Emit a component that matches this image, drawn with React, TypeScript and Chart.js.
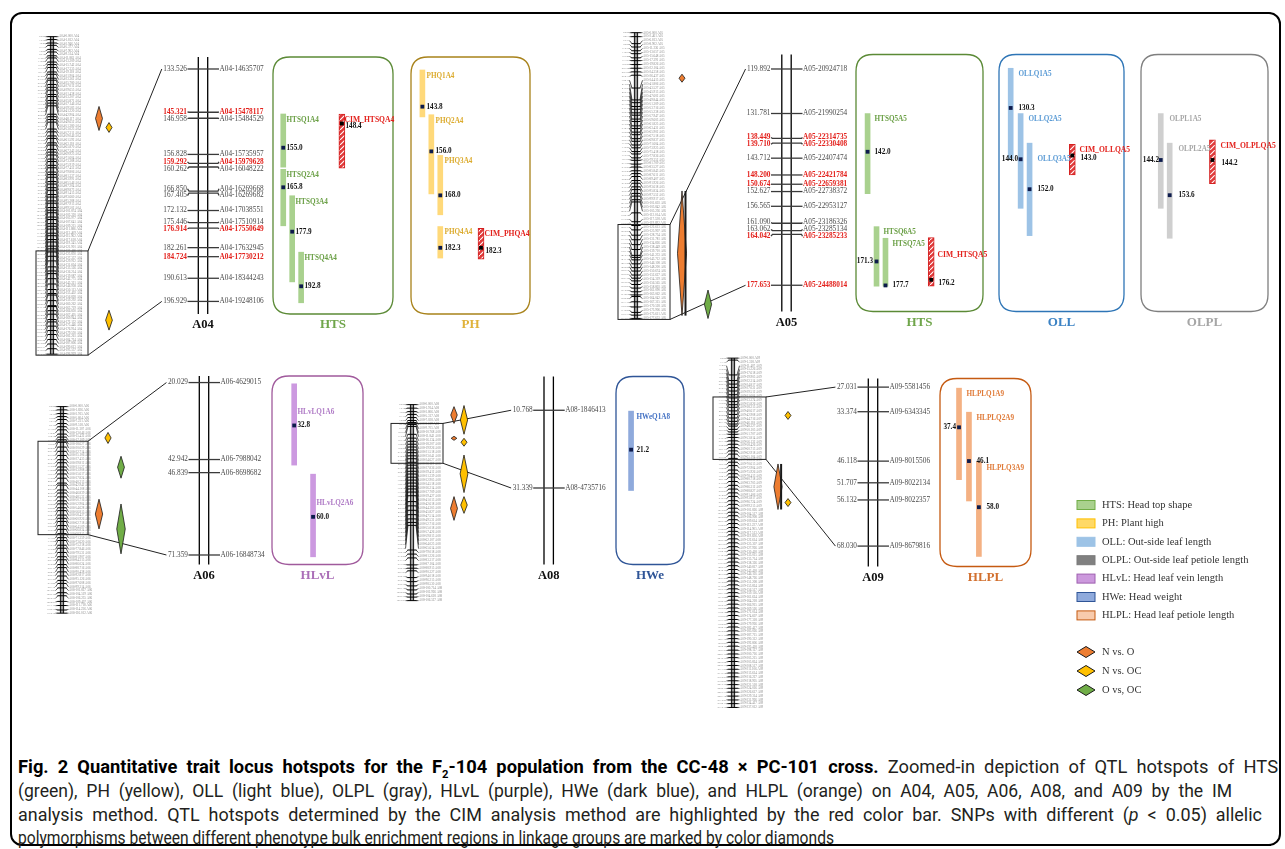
import { useEffect, useLayoutEffect, useRef } from 'react';
import { Chart, registerables } from 'chart.js';
Chart.register(...registerables);

const W = 1285;
const H = 740;
const SERIF = '"Liberation Serif", "Times New Roman", serif';

// ---------- zoomed linkage-group markers (cM, marker id) ----------
const A04_CM = [133.526, 145.321, 146.958, 156.828, 159.292, 160.262, 166.85, 167.405, 172.132, 175.446, 176.914, 182.261, 184.724, 190.613, 196.929];
const A04_ID = ['A04-14635707', 'A04-15478117', 'A04-15484529', 'A04-15735957', 'A04-15979628', 'A04-16048222', 'A04-16269668', 'A04-16269682', 'A04-17038551', 'A04-17510914', 'A04-17550649', 'A04-17632945', 'A04-17730212', 'A04-18344243', 'A04-19248106'];
const A05_CM = [119.892, 131.781, 138.449, 139.71, 143.712, 148.2, 150.674, 152.627, 156.565, 161.09, 163.062, 164.042, 177.653];
const A05_ID = ['A05-20924718', 'A05-21990254', 'A05-22314735', 'A05-22330408', 'A05-22407474', 'A05-22421784', 'A05-22659381', 'A05-22738372', 'A05-22953127', 'A05-23186326', 'A05-23285134', 'A05-23285233', 'A05-24488014'];
const A06_CM = [20.029, 42.942, 46.839, 71.359];
const A06_ID = ['A06-4629015', 'A06-7988042', 'A06-8698682', 'A06-16848734'];
const A08_CM = [10.768, 31.339];
const A08_ID = ['A08-1846413', 'A08-4735716'];
const A09_CM = [27.031, 33.374, 46.118, 51.707, 56.132, 68.03];
const A09_ID = ['A09-5581456', 'A09-6343345', 'A09-8015506', 'A09-8022134', 'A09-8022357', 'A09-8679816'];
const RED_MARKERS = ['A04-15478117', 'A04-15979628', 'A04-17550649', 'A04-17730212', 'A05-22314735', 'A05-22330408', 'A05-22421784', 'A05-22659381', 'A05-23285233', 'A05-24488014'];

// ---------- whole linkage-group maps (cM) ----------
const A04_MAP = [0, 1.812, 3.946, 5.377, 7.902, 9.514, 11.863, 13.209, 15.742, 17.335, 19.118, 21.904, 23.361, 25.78, 27.012, 29.655, 31.438, 33.207, 35.871, 37.146, 39.583, 41.22, 42.904, 48.117, 49.652, 51.38, 53.025, 57.311, 59.046, 61.592, 63.118, 65.87, 67.243, 69.925, 71.604, 73.388, 75.919, 77.452, 79.806, 81.337, 83.991, 85.546, 87.204, 89.873, 91.415, 93.66, 95.288, 97.913, 99.502, 101.874, 103.32, 105.977, 107.641, 109.215, 111.886, 113.409, 115.962, 117.618, 119.345, 121.901, 123.466, 125.83, 127.357, 129.912, 131.604, 133.526, 136.214, 139.087, 142.775, 145.321, 146.958, 150.113, 153.402, 156.828, 159.292, 160.262, 163.719, 166.85, 167.405, 169.944, 172.132, 175.446, 176.914, 179.53, 182.261, 184.724, 187.806, 190.613, 193.557, 196.929];
const A05_MAP = [0, 2.461, 6.813, 8.902, 11.236, 13.057, 15.648, 17.391, 19.826, 22.104, 24.358, 26.437, 34.415, 41.806, 43.527, 45.913, 47.602, 49.844, 51.309, 53.716, 55.238, 57.947, 59.603, 61.825, 63.431, 65.902, 67.518, 69.837, 71.604, 73.925, 75.418, 77.836, 79.352, 81.709, 83.527, 85.843, 87.611, 89.407, 91.926, 93.618, 95.834, 97.552, 99.917, 101.603, 103.842, 105.236, 112.014, 117.528, 119.892, 122.613, 125.907, 128.734, 131.781, 134.826, 138.449, 139.71, 141.233, 143.712, 146.108, 148.2, 150.674, 152.627, 154.319, 156.565, 158.803, 161.09, 163.062, 164.042, 167.315, 170.528, 173.906, 175.611, 177.653];
const A06_MAP = [0, 1.826, 3.915, 5.604, 7.231, 9.518, 11.307, 13.046, 15.432, 17.109, 18.627, 20.029, 22.714, 25.106, 27.435, 29.812, 31.527, 33.908, 35.617, 37.824, 40.213, 42.942, 44.108, 46.839, 48.532, 50.716, 52.904, 54.628, 56.815, 58.437, 60.926, 62.718, 64.509, 66.834, 68.915, 71.359, 73.62, 75.218, 77.846, 79.531, 81.907, 84.315, 86.024, 88.716, 90.438, 92.817, 95.126, 97.608, 99.314, 101.827, 104.519, 106.235, 109.407, 111.718, 114.236, 116.012];
const A08_MAP = [0, 1.914, 3.806, 5.317, 7.028, 8.619, 9.705, 10.768, 11.842, 16.134, 18.207, 19.926, 21.518, 23.041, 24.627, 26.119, 27.836, 29.412, 31.339, 32.905, 34.518, 36.214, 37.709, 39.427, 41.013, 42.618, 44.305, 45.827, 47.514, 49.531, 52.716, 55.018, 57.426, 59.813, 62.107, 64.025, 65.614, 79.018, 81.226, 83.317, 87.104, 88.915, 90.327, 94.018, 96.215, 98.53, 100.714, 102.926, 104.618, 106.527];
const A09_MAP = [0, 1.318, 11.407, 15.226, 17.618, 19.905, 22.314, 24.817, 27.031, 29.512, 31.604, 33.374, 35.826, 38.215, 40.617, 42.908, 44.716, 46.118, 48.327, 50.105, 51.707, 53.814, 56.132, 58.426, 60.713, 62.918, 65.104, 68.03, 70.615, 72.904, 75.926, 78.413, 80.718, 83.705, 86.312, 88.827, 91.406, 93.817, 96.724, 99.215, 101.826, 104.517, 106.908, 109.614, 112.227, 114.905, 117.513, 119.826, 122.614, 125.307, 127.926, 130.418, 133.015, 135.714, 138.326, 140.817, 143.418, 146.105, 148.726, 151.208, 153.824, 156.517, 159.116, 161.624, 164.218, 166.915, 169.526, 172.014, 174.607, 177.318, 179.926, 182.417, 185.026, 187.715, 190.312, 192.806, 195.418, 198.127, 200.716, 203.215, 205.824, 208.517, 211.106, 213.614, 216.227, 218.905, 221.518, 224.016, 226.617, 229.314, 231.926, 234.417, 237.012];

// ---------- QTL intervals (cM) ----------
const QTL_NAME = ['HTSQ1A4', 'HTSQ2A4', 'HTSQ3A4', 'HTSQ4A4', 'CIM_HTSQA4', 'PHQ1A4', 'PHQ2A4', 'PHQ3A4', 'PHQ4A4', 'CIM_PHQA4', 'HTSQ5A5', 'HTSQ6A5', 'HTSQ7A5', 'CIM_HTSQA5', 'OLLQ1A5', 'OLLQ2A5', 'OLLQ3A5', 'CIM_OLLQA5', 'OLPL1A5', 'OLPL2A5', 'CIM_OLPLQA5', 'HLvLQ1A6', 'HLvLQ2A6', 'HWeQ1A8', 'HLPLQ1A9', 'HLPLQ2A9', 'HLPLQ3A9'];
const QTL_TRAIT = ['HTS', 'HTS', 'HTS', 'HTS', 'HTS', 'PH', 'PH', 'PH', 'PH', 'PH', 'HTS', 'HTS', 'HTS', 'HTS', 'OLL', 'OLL', 'OLL', 'OLL', 'OLPL', 'OLPL', 'OLPL', 'HLvL', 'HLvL', 'HWe', 'HLPL', 'HLPL', 'HLPL'];
const QTL_CHR = ['A04', 'A04', 'A04', 'A04', 'A04', 'A04', 'A04', 'A04', 'A04', 'A04', 'A05', 'A05', 'A05', 'A05', 'A05', 'A05', 'A05', 'A05', 'A05', 'A05', 'A05', 'A06', 'A06', 'A08', 'A09', 'A09', 'A09'];
const QTL_START = [145.8, 160.9, 168.1, 183.5, 145.8, 133.8, 146.0, 157.1, 176.5, 177.0, 131.8, 162.0, 165.1, 164.9, 119.7, 131.8, 139.7, 140.0, 131.8, 139.7, 138.8, 20.4, 47.3, 11.0, 27.3, 33.5, 46.3];
const QTL_END = [160.3, 176.3, 191.6, 197.3, 160.6, 146.6, 167.6, 173.3, 185.1, 185.4, 153.2, 177.9, 177.9, 177.9, 143.8, 157.1, 164.4, 148.2, 157.1, 165.1, 150.5, 44.6, 71.9, 32.0, 50.9, 56.4, 70.7];
const QTL_PEAK = [155.0, 165.8, 177.9, 192.8, 148.4, 143.8, 156.0, 168.0, 182.3, 182.3, 142.0, 171.3, 177.7, 176.2, 130.3, 144.0, 152.0, 143.0, 144.2, 153.6, 144.2, 32.8, 60.0, 21.2, 37.4, 46.1, 58.0];

// ---------- allelic-difference diamonds (cM on whole map) ----------
const DIA_CHR = ['A04', 'A04', 'A04', 'A05', 'A05', 'A05', 'A06', 'A06', 'A06', 'A06', 'A08', 'A08', 'A08', 'A08', 'A08', 'A08', 'A08', 'A09', 'A09', 'A09'];
const DIA_TYPE = ['NO', 'NOC', 'NOC', 'NO', 'NO', 'OOC', 'NOC', 'OOC', 'NO', 'OOC', 'NO', 'NOC', 'NO', 'NOC', 'NOC', 'NO', 'NOC', 'NOC', 'NO', 'NOC'];
const DIA_START = [43.3, 53.3, 169.7, 25.8, 98.4, 160.0, 14.5, 27.9, 52.0, 54.7, 1.1, 0.5, 17.2, 18.3, 27.4, 50.0, 50.0, 36.2, 71.8, 95.3];
const DIA_END = [58.2, 59.4, 182.0, 30.8, 175.9, 177.7, 20.7, 40.2, 68.7, 82.7, 10.2, 16.1, 19.4, 22.6, 47.8, 62.9, 59.1, 41.6, 102.7, 100.7];

// ---------- legend ----------
const LEGEND_TRAITS = ['HTS: Head top shape', 'PH: Plant high', 'OLL: Out-side leaf length', 'OLPL: Out-side leaf petiole length', 'HLvL: Head leaf vein length', 'HWe: Head weight', 'HLPL: Head leaf petiole length'];
const LEGEND_DIAMONDS = ['N vs. O', 'N vs. OC', 'O vs, OC'];

// ---------- styles & layout ----------
const TRAIT_STYLE: Record<string, any> = {
  HTS: { bar: '#a9d18e', text: '#6a9f45', frame: '#5b8a36', title: '#6fa54a', lFill: '#a9d18e', lEdge: '#70ad47' },
  PH: { bar: '#ffd97a', text: '#dcab2e', frame: '#a8821a', title: '#e0b23a', lFill: '#ffd966', lEdge: '#ffc000' },
  OLL: { bar: '#9dc3e6', text: '#5b9bd5', frame: '#2e75b6', title: '#3b82c4', lFill: '#9dc3e6', lEdge: '#9dc3e6' },
  OLPL: { bar: '#cfcfcf', text: '#a6a6a6', frame: '#7f7f7f', title: '#a6a6a6', lFill: '#808080', lEdge: '#7a7a7a' },
  HLvL: { bar: '#cc99e0', text: '#b07cc6', frame: '#a05a9c', title: '#ab6fb8', lFill: '#cc99dd', lEdge: '#9e5fb0' },
  HWe: { bar: '#8faadc', text: '#4472c4', frame: '#2f5597', title: '#2f5597', lFill: '#8faadc', lEdge: '#2f5597' },
  HLPL: { bar: '#f4b183', text: '#e07b39', frame: '#c55a11', title: '#d2702f', lFill: '#f8cbad', lEdge: '#c55a11' },
};
const TRAIT_ORDER = ['HTS', 'PH', 'OLL', 'OLPL', 'HLvL', 'HWe', 'HLPL'];
const DIA_COLOR: Record<string, string> = { NO: '#ed7d31', NOC: '#ffc000', OOC: '#70ad47' };
const DIA_ORDER = ['NO', 'NOC', 'OOC'];

const CHRS = ['A04', 'A05', 'A06', 'A08', 'A09'];
const ZOOM: Record<string, { cm: number[]; id: string[] }> = {
  A04: { cm: A04_CM, id: A04_ID }, A05: { cm: A05_CM, id: A05_ID }, A06: { cm: A06_CM, id: A06_ID },
  A08: { cm: A08_CM, id: A08_ID }, A09: { cm: A09_CM, id: A09_ID },
};
const MAPS: Record<string, number[]> = { A04: A04_MAP, A05: A05_MAP, A06: A06_MAP, A08: A08_MAP, A09: A09_MAP };

const ZOOM_X: Record<string, number> = { A04: 203, A05: 786.5, A06: 204, A08: 548.7, A09: 873 };
const ROW_TOP: Record<string, number> = { A04: 57, A05: 54.5, A06: 376, A08: 376.5, A09: 378.5 };
const ROW_BOT: Record<string, number> = { A04: 314, A05: 311.5, A06: 564.5, A08: 564.5, A09: 566.5 };
const OV_X: Record<string, number> = { A04: 52, A05: 636, A06: 62, A08: 412, A09: 733 };
const BOX_X: Record<string, number[]> = { A04: [36, 88], A05: [618, 670], A06: [38, 88], A08: [391, 443], A09: [713, 766] };
const DIA_X: Record<string, Record<string, number>> = {
  A04: { NO: 99, NOC: 109 }, A05: { NO: 682, OOC: 708 }, A06: { NO: 99, NOC: 108, OOC: 121 },
  A08: { NO: 454, NOC: 464 }, A09: { NO: 778, NOC: 788 },
};
const PANELS = [
  { trait: 'HTS', chr: 'A04', x0: 273, x1: 393 }, { trait: 'PH', chr: 'A04', x0: 411, x1: 530 },
  { trait: 'HTS', chr: 'A05', x0: 856, x1: 983 }, { trait: 'OLL', chr: 'A05', x0: 999, x1: 1124 },
  { trait: 'OLPL', chr: 'A05', x0: 1141, x1: 1268 }, { trait: 'HLvL', chr: 'A06', x0: 272, x1: 363 },
  { trait: 'HWe', chr: 'A08', x0: 616, x1: 684 }, { trait: 'HLPL', chr: 'A09', x0: 940, x1: 1031 },
];
const QTL_X: Record<string, number> = {
  HTSQ1A4: 281, HTSQ2A4: 281, HTSQ3A4: 290, HTSQ4A4: 299, CIM_HTSQA4: 340,
  PHQ1A4: 421, PHQ2A4: 430, PHQ3A4: 439, PHQ4A4: 439, CIM_PHQA4: 480,
  HTSQ5A5: 869, HTSQ6A5: 878, HTSQ7A5: 887, CIM_HTSQA5: 933,
  OLLQ1A5: 1013, OLLQ2A5: 1023, OLLQ3A5: 1032, CIM_OLLQA5: 1075,
  OLPL1A5: 1164, OLPL2A5: 1173, CIM_OLPLQA5: 1216,
  HLvLQ1A6: 292, HLvLQ2A6: 311, HWeQ1A8: 631,
  HLPLQ1A9: 961, HLPLQ2A9: 971, HLPLQ3A9: 981,
};
const NAME_DY_FROM_PEAK: Record<string, number> = { CIM_HTSQA5: -25, OLLQ3A5: -30, HLvLQ1A6: -13, HLvLQ2A6: -14 };
const VALUE_LEFT = ['HTSQ6A5', 'OLLQ2A5', 'OLPL1A5', 'HLPLQ1A9'];

function yAxis(anchorCm: number, anchorPx: number, pxPerCm: number) {
  const min = anchorCm - anchorPx / pxPerCm;
  return { type: 'linear', display: false, reverse: true, beginAtZero: false, bounds: 'data', min, max: min + H / pxPerCm, grid: { display: false }, ticks: { display: false } };
}

function makeHatch(): any {
  const c = document.createElement('canvas');
  c.width = 5; c.height = 5;
  const g = c.getContext('2d')!;
  g.fillStyle = '#e03a3a'; g.fillRect(0, 0, 5, 5);
  g.strokeStyle = '#ffffff'; g.lineWidth = 1.1;
  g.beginPath(); g.moveTo(-1, 6); g.lineTo(6, -1); g.stroke();
  return g.createPattern(c, 'repeat');
}

function roundRect(ctx: CanvasRenderingContext2D, x: number, y: number, w: number, h: number, r: number) {
  ctx.beginPath();
  ctx.moveTo(x + r, y);
  ctx.lineTo(x + w - r, y); ctx.quadraticCurveTo(x + w, y, x + w, y + r);
  ctx.lineTo(x + w, y + h - r); ctx.quadraticCurveTo(x + w, y + h, x + w - r, y + h);
  ctx.lineTo(x + r, y + h); ctx.quadraticCurveTo(x, y + h, x, y + h - r);
  ctx.lineTo(x, y + r); ctx.quadraticCurveTo(x, y, x + r, y);
  ctx.closePath();
}

function diamond(ctx: CanvasRenderingContext2D, x: number, y1: number, y2: number, w: number, fill: string, spine: boolean) {
  const m = (y1 + y2) / 2;
  ctx.beginPath();
  ctx.moveTo(x, y1); ctx.lineTo(x + w / 2, m); ctx.lineTo(x, y2); ctx.lineTo(x - w / 2, m); ctx.closePath();
  ctx.fillStyle = fill; ctx.fill();
  ctx.strokeStyle = '#1a1a1a'; ctx.lineWidth = 0.8; ctx.stroke();
  if (spine) {
    ctx.beginPath();
    ctx.moveTo(x + w / 2 - 1, y1); ctx.lineTo(x + w / 2 - 1, y2);
    ctx.lineWidth = 2; ctx.stroke();
  }
}

function spread(ys: number[], gap: number) {
  const l = ys.slice();
  for (let pass = 0; pass < 12; pass++) {
    for (let i = 1; i < l.length; i++) {
      if (l[i] - l[i - 1] < gap) {
        const mid = (l[i] + l[i - 1]) / 2;
        l[i - 1] = mid - gap / 2; l[i] = mid + gap / 2;
      }
    }
  }
  return l;
}

function drawOverview(ctx: CanvasRenderingContext2D, chart: any, chr: string) {
  const sc = chart.scales['y' + chr + 'o'];
  const cms = MAPS[chr];
  const cx = OV_X[chr];
  const ys = cms.map((c) => sc.getPixelForValue(c));
  const top = ys[0], bot = ys[ys.length - 1];
  const n = cms.length;
  ctx.lineWidth = 0.7; ctx.strokeStyle = '#111';
  for (let i = 0; i < n; i++) {
    const ly = top + ((bot - top) * i) / (n - 1);
    ctx.beginPath();
    ctx.moveTo(cx - 4, ys[i]); ctx.lineTo(cx - 6.5, ly);
    ctx.moveTo(cx + 4, ys[i]); ctx.lineTo(cx + 6.5, ly);
    ctx.stroke();
    ctx.fillStyle = '#8a8a8a';
    ctx.textBaseline = 'middle';
    ctx.font = `2.6px ${SERIF}`;
    ctx.textAlign = 'right';
    ctx.fillText(cms[i].toFixed(3), cx - 7, ly);
    ctx.font = `3.2px ${SERIF}`;
    ctx.textAlign = 'left';
    ctx.fillText(`${chr}-${cms[i].toFixed(3)} ${chr}`, cx + 7, ly);
  }
  ctx.fillStyle = '#9a9a9a';
  ctx.fillRect(cx - 1.6, top, 3.2, bot - top);
  ctx.strokeStyle = '#000'; ctx.lineWidth = 0.9;
  ctx.beginPath();
  ctx.moveTo(cx - 1.6, top); ctx.lineTo(cx - 1.6, bot);
  ctx.moveTo(cx + 1.6, top); ctx.lineTo(cx + 1.6, bot);
  ctx.stroke();
  ctx.lineWidth = 1;
  ctx.beginPath();
  ys.forEach((y) => { ctx.moveTo(cx - 4.5, y); ctx.lineTo(cx + 4.5, y); });
  ctx.stroke();
}

function drawZoomLink(ctx: CanvasRenderingContext2D, chart: any, chr: string) {
  const so = chart.scales['y' + chr + 'o'];
  const sz = chart.scales['y' + chr + 'z'];
  const z = ZOOM[chr];
  const first = z.cm[0], last = z.cm[z.cm.length - 1];
  const bt = so.getPixelForValue(first) - 1;
  const bb = so.getPixelForValue(last) + 1;
  const [bx0, bx1] = BOX_X[chr];
  ctx.strokeStyle = '#222'; ctx.lineWidth = 1;
  ctx.strokeRect(bx0, bt, bx1 - bx0, bb - bt);
  ctx.font = `7.3px ${SERIF}`;
  const lw = ctx.measureText(first.toFixed(3)).width;
  const ex = ZOOM_X[chr] - 15.5 - lw - 2;
  ctx.beginPath();
  ctx.moveTo(bx1, bt); ctx.lineTo(ex, sz.getPixelForValue(first));
  ctx.moveTo(bx1, bb); ctx.lineTo(ex, sz.getPixelForValue(last));
  ctx.stroke();
}

function drawZoomChr(ctx: CanvasRenderingContext2D, chart: any, chr: string) {
  const sz = chart.scales['y' + chr + 'z'];
  const z = ZOOM[chr];
  const cx = ZOOM_X[chr];
  const top = ROW_TOP[chr], bot = ROW_BOT[chr];
  ctx.strokeStyle = '#000'; ctx.lineWidth = 1.3;
  ctx.beginPath();
  ctx.moveTo(cx - 4.7, top); ctx.lineTo(cx - 4.7, bot);
  ctx.moveTo(cx + 4.7, top); ctx.lineTo(cx + 4.7, bot);
  ctx.stroke();
  const ys = z.cm.map((c) => sz.getPixelForValue(c));
  const ly = spread(ys, 6.8);
  ctx.strokeStyle = '#3a3a3a'; ctx.lineWidth = 1.3;
  ys.forEach((y, i) => {
    ctx.beginPath();
    ctx.moveTo(cx - 15.5, ly[i]); ctx.lineTo(cx - 14, y); ctx.lineTo(cx + 15, y); ctx.lineTo(cx + 16, ly[i]);
    ctx.stroke();
  });
  ctx.textBaseline = 'middle';
  z.cm.forEach((c, i) => {
    const red = RED_MARKERS.includes(z.id[i]);
    ctx.font = `${red ? 'bold ' : ''}7.3px ${SERIF}`;
    ctx.fillStyle = red ? '#e3211c' : '#4a4a4a';
    ctx.textAlign = 'right';
    ctx.fillText(c.toFixed(3), cx - 16, ly[i]);
    ctx.textAlign = 'left';
    ctx.fillText(z.id[i], cx + 16.5, ly[i]);
  });
}

const figurePlugin = {
  id: 'figure',
  beforeDatasetsDraw(chart: any) {
    const ctx: CanvasRenderingContext2D = chart.ctx;
    ctx.save();
    PANELS.forEach((p) => {
      const st = TRAIT_STYLE[p.trait];
      const t = ROW_TOP[p.chr], b = ROW_BOT[p.chr];
      roundRect(ctx, p.x0, t, p.x1 - p.x0, b - t, 17);
      ctx.strokeStyle = st.frame; ctx.lineWidth = 1.3; ctx.stroke();
    });
    CHRS.forEach((chr) => {
      drawOverview(ctx, chart, chr);
      drawZoomLink(ctx, chart, chr);
      drawZoomChr(ctx, chart, chr);
    });
    DIA_CHR.forEach((chr, i) => {
      const so = chart.scales['y' + chr + 'o'];
      const y1 = so.getPixelForValue(DIA_START[i]);
      const y2 = so.getPixelForValue(DIA_END[i]);
      const h = y2 - y1;
      const w = Math.min(9, 5.5 + h * 0.06);
      diamond(ctx, DIA_X[chr][DIA_TYPE[i]], y1, y2, w, DIA_COLOR[DIA_TYPE[i]], DIA_TYPE[i] === 'NO' && h > 40);
    });
    ctx.restore();
  },
  afterDatasetsDraw(chart: any) {
    const ctx: CanvasRenderingContext2D = chart.ctx;
    ctx.save();
    ctx.textBaseline = 'middle';
    QTL_NAME.forEach((name, i) => {
      const sz = chart.scales['y' + QTL_CHR[i] + 'z'];
      const x = QTL_X[name];
      const yTop = sz.getPixelForValue(QTL_START[i]);
      const yPeak = sz.getPixelForValue(QTL_PEAK[i]);
      const cim = name.startsWith('CIM_');
      ctx.fillStyle = cim ? '#e3211c' : TRAIT_STYLE[QTL_TRAIT[i]].text;
      ctx.textAlign = 'left';
      const ny = NAME_DY_FROM_PEAK[name] !== undefined ? yPeak + NAME_DY_FROM_PEAK[name] : yTop + 6;
      ctx.font = cim ? `bold 7.6px ${SERIF}` : `bold 7.2px ${SERIF}`;
      ctx.fillText(name, x + (cim ? 4.5 : 5.5), ny);
      ctx.font = `bold 7.2px ${SERIF}`;
      ctx.fillStyle = '#111';
      const v = QTL_PEAK[i].toFixed(1);
      if (VALUE_LEFT.includes(name)) { ctx.textAlign = 'right'; ctx.fillText(v, x - 5, yPeak); }
      else { ctx.textAlign = 'left'; ctx.fillText(v, x + 5.5, yPeak + (cim ? 3 : 0)); }
    });
    ctx.textAlign = 'center';
    CHRS.forEach((chr) => {
      ctx.font = `bold 12.5px ${SERIF}`;
      ctx.fillStyle = '#111';
      ctx.fillText(chr, ZOOM_X[chr], ROW_BOT[chr] + 11);
    });
    PANELS.forEach((p) => {
      ctx.font = `bold 13px ${SERIF}`;
      ctx.fillStyle = TRAIT_STYLE[p.trait].title;
      ctx.fillText(p.trait, (p.x0 + p.x1) / 2, ROW_BOT[p.chr] + 11);
    });
    ctx.font = `10.5px ${SERIF}`;
    LEGEND_TRAITS.forEach((label, i) => {
      const st = TRAIT_STYLE[TRAIT_ORDER[i]];
      const y = 505 + i * 18.4;
      ctx.fillStyle = st.lFill; ctx.fillRect(1077, y - 4.5, 18, 9);
      ctx.strokeStyle = st.lEdge; ctx.lineWidth = 1; ctx.strokeRect(1077, y - 4.5, 18, 9);
      ctx.fillStyle = '#333'; ctx.textAlign = 'left';
      ctx.fillText(label, 1102, y);
    });
    LEGEND_DIAMONDS.forEach((label, i) => {
      const y = 652 + i * 19;
      const x = 1086;
      ctx.beginPath();
      ctx.moveTo(x - 9, y); ctx.lineTo(x, y - 5.5); ctx.lineTo(x + 9, y); ctx.lineTo(x, y + 5.5); ctx.closePath();
      ctx.fillStyle = DIA_COLOR[DIA_ORDER[i]]; ctx.fill();
      ctx.strokeStyle = '#1a1a1a'; ctx.lineWidth = 1; ctx.stroke();
      ctx.fillStyle = '#333'; ctx.textAlign = 'left';
      ctx.fillText(label, 1102, y);
    });
    ctx.restore();
  },
};

const CAPTION_LINES = [
  { bold: 'Fig. 2 Quantitative trait locus hotspots for the F', sub: '2', bold2: '-104 population from the CC-48 × PC-101 cross.', text: ' Zoomed-in depiction of QTL hotspots of HTS', target: 1260 },
  { text: '(green), PH (yellow), OLL (light blue), OLPL (gray), HLvL (purple), HWe (dark blue), and HLPL (orange) on A04, A05, A06, A08, and A09 by the IM', target: 1214 },
  { text: 'analysis method. QTL hotspots determined by the CIM analysis method are highlighted by the red color bar. SNPs with different (', ital: 'p', text2: ' < 0.05) allelic', target: 1244 },
  { text: 'polymorphisms between different phenotype bulk enrichment regions in linkage groups are marked by color diamonds', target: 816 },
];
const CAPTION_Y = [767, 791, 815, 838];

export default function App() {
  const canvasRef = useRef<HTMLCanvasElement | null>(null);
  const lineRefs = useRef<(HTMLDivElement | null)[]>([]);

  useEffect(() => {
    const canvas = canvasRef.current;
    if (!canvas) return;
    const hatch = makeHatch();
    const datasets: any[] = [];
    QTL_NAME.forEach((name, i) => {
      const cim = name.startsWith('CIM_');
      datasets.push({
        type: 'bar',
        label: name,
        data: [{ x: QTL_X[name], y: [QTL_START[i], QTL_END[i]] }],
        xAxisID: 'x',
        yAxisID: 'y' + QTL_CHR[i] + 'z',
        backgroundColor: cim ? hatch : TRAIT_STYLE[QTL_TRAIT[i]].bar,
        borderColor: cim ? '#d42020' : TRAIT_STYLE[QTL_TRAIT[i]].bar,
        borderWidth: cim ? 1 : 0,
        borderSkipped: false,
        barThickness: cim ? 6 : 5,
        grouped: false,
        order: 2,
      });
    });
    CHRS.forEach((chr) => {
      const idx = QTL_CHR.map((c, i) => (c === chr ? i : -1)).filter((i) => i >= 0);
      datasets.push({
        type: 'scatter',
        label: 'peaks ' + chr,
        data: idx.map((i) => ({ x: QTL_X[QTL_NAME[i]], y: QTL_PEAK[i] })),
        xAxisID: 'x',
        yAxisID: 'y' + chr + 'z',
        pointStyle: 'rect',
        pointRadius: 2.7,
        pointBorderWidth: 0,
        pointBackgroundColor: idx.map((i) => (QTL_NAME[i].startsWith('CIM_') ? '#000000' : '#0d1b4c')),
        showLine: false,
        order: 1,
      });
    });
    const chart = new Chart(canvas, {
      type: 'bar',
      data: { datasets },
      options: {
        animation: false,
        responsive: false,
        maintainAspectRatio: false,
        events: [],
        layout: { padding: 0 },
        plugins: { legend: { display: false }, tooltip: { enabled: false }, title: { display: false } },
        scales: {
          x: { type: 'linear', display: false, min: 0, max: W, offset: false, grid: { display: false } },
          yA04z: yAxis(133.526, 65.7, 3.706),
          yA04o: yAxis(0, 33, 1.63),
          yA05z: yAxis(119.892, 65.7, 3.785),
          yA05o: yAxis(0, 29, 1.626),
          yA06z: yAxis(20.029, 382.7, 3.396),
          yA06o: yAxis(0, 407, 1.8),
          yA08z: yAxis(10.768, 410.7, 3.82),
          yA08o: yAxis(0, 405, 1.86),
          yA09z: yAxis(27.031, 387.3, 3.92),
          yA09o: yAxis(0, 358, 1.49),
        } as any,
      },
      plugins: [figurePlugin],
    } as any);
    return () => chart.destroy();
  }, []);

  useLayoutEffect(() => {
    const fit = () => {
      const els = lineRefs.current;
      els.forEach((el, i) => {
        if (!el) return;
        el.style.transform = 'none';
        el.style.wordSpacing = i < els.length - 1 ? '4.5px' : '0px';
        const w = el.getBoundingClientRect().width;
        if (w > 0) el.style.transform = `scaleX(${CAPTION_LINES[i].target / w})`;
      });
    };
    fit();
    if ((document as any).fonts && (document as any).fonts.ready) (document as any).fonts.ready.then(fit);
  }, []);

  return (
    <div style={{ position: 'absolute', left: 0, top: 0, width: W, height: 849, background: '#fff', overflow: 'hidden' }}>
      <div style={{ position: 'absolute', left: 10, top: 12, width: 1271, height: 834, border: '2px solid #000', borderRadius: 12, boxSizing: 'border-box' }} />
      <canvas ref={canvasRef} width={W} height={H} style={{ position: 'absolute', left: 0, top: 0, width: W, height: H }} />
      {CAPTION_LINES.map((ln: any, i) => (
        <div
          key={i}
          ref={(el) => { lineRefs.current[i] = el; }}
          style={{
            position: 'absolute', left: 18, top: CAPTION_Y[i] - 12, height: 24, lineHeight: '24px',
            whiteSpace: 'nowrap', display: 'inline-block', transformOrigin: '0 50%',
            fontFamily: 'Roboto, "Open Sans", sans-serif',
            fontSize: 18, color: '#231f20',
          }}
        >
          {ln.bold && <b style={{ color: '#000', fontWeight: 700 }}>{ln.bold}<sub style={{ fontSize: 11 }}>{ln.sub}</sub>{ln.bold2}</b>}
          {ln.text}
          {ln.ital && <i>{ln.ital}</i>}
          {ln.text2}
        </div>
      ))}
    </div>
  );
}
